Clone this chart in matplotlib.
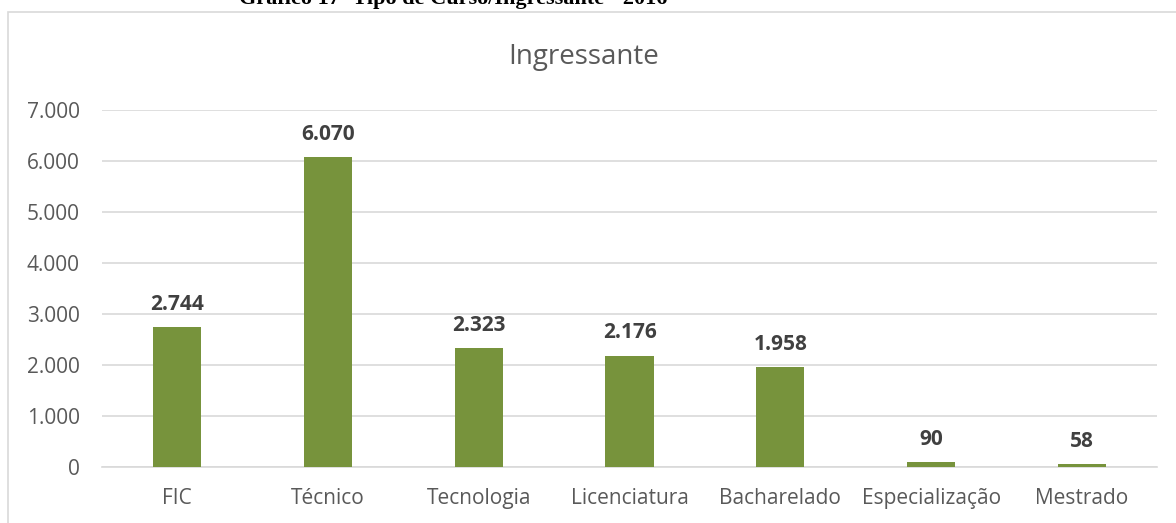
import matplotlib.pyplot as plt
from matplotlib.patches import Rectangle
from matplotlib.ticker import FuncFormatter

categorias = ["FIC", "Técnico", "Tecnologia", "Licenciatura", "Bacharelado",
              "Especialização", "Mestrado"]
ingressantes = [2744, 6070, 2323, 2176, 1958, 90, 58]
y_ticks = [0, 1000, 2000, 3000, 4000, 5000, 6000, 7000]


def fmt_br(v, pos=None):
    return f"{int(v):,}".replace(",", ".")


plt.rcParams['font.family'] = ['Open Sans', 'DejaVu Sans']

fig = plt.figure(figsize=(11.76, 5.23), dpi=100)
ax = fig.add_axes([0.0867, 0.107, 0.8973, 0.683])

# moldura do gráfico (cortada pela imagem)
fig.patches.append(Rectangle((0.0068, -0.05), 1.2, 0.05 + 0.977,
                             transform=fig.transFigure, fill=False,
                             edgecolor='#d9d9d9', linewidth=1.2))

x = range(len(categorias))
bars = ax.bar(x, ingressantes, width=0.32, color='#77933C', zorder=3)

for b, v in zip(bars, ingressantes):
    ax.annotate(fmt_br(v), (b.get_x() + b.get_width() / 2, v),
                xytext=(0, 9), textcoords='offset points',
                ha='center', va='bottom', fontsize=15, fontweight='bold',
                color='#404040')

ax.set_xlim(-0.5, len(categorias) - 0.5)
ax.set_ylim(0, 7000)
ax.set_yticks(y_ticks)
ax.yaxis.set_major_formatter(FuncFormatter(fmt_br))
ax.set_xticks(list(x))
ax.set_xticklabels(categorias)
ax.tick_params(axis='both', length=0, labelsize=15, colors='#595959')
ax.tick_params(axis='y', pad=16)
ax.tick_params(axis='x', pad=15)
ax.grid(axis='y', color='#d9d9d9', linewidth=1.2, zorder=0)
for s in ['top', 'right', 'left']:
    ax.spines[s].set_visible(False)
ax.spines['bottom'].set_color('#d9d9d9')
ax.spines['bottom'].set_linewidth(1.2)

fig.text(0.496, 0.891, "Ingressante", ha='center', va='center',
         fontsize=20, color='#595959')
fig.text(0.385, 0.992, "Gráfico 17- Tipo de Curso/Ingressante - 2016",
         ha='center', va='baseline', fontsize=16, fontweight='bold',
         family=['Liberation Serif'], color='black')

fig.savefig("out.png", dpi=100)
